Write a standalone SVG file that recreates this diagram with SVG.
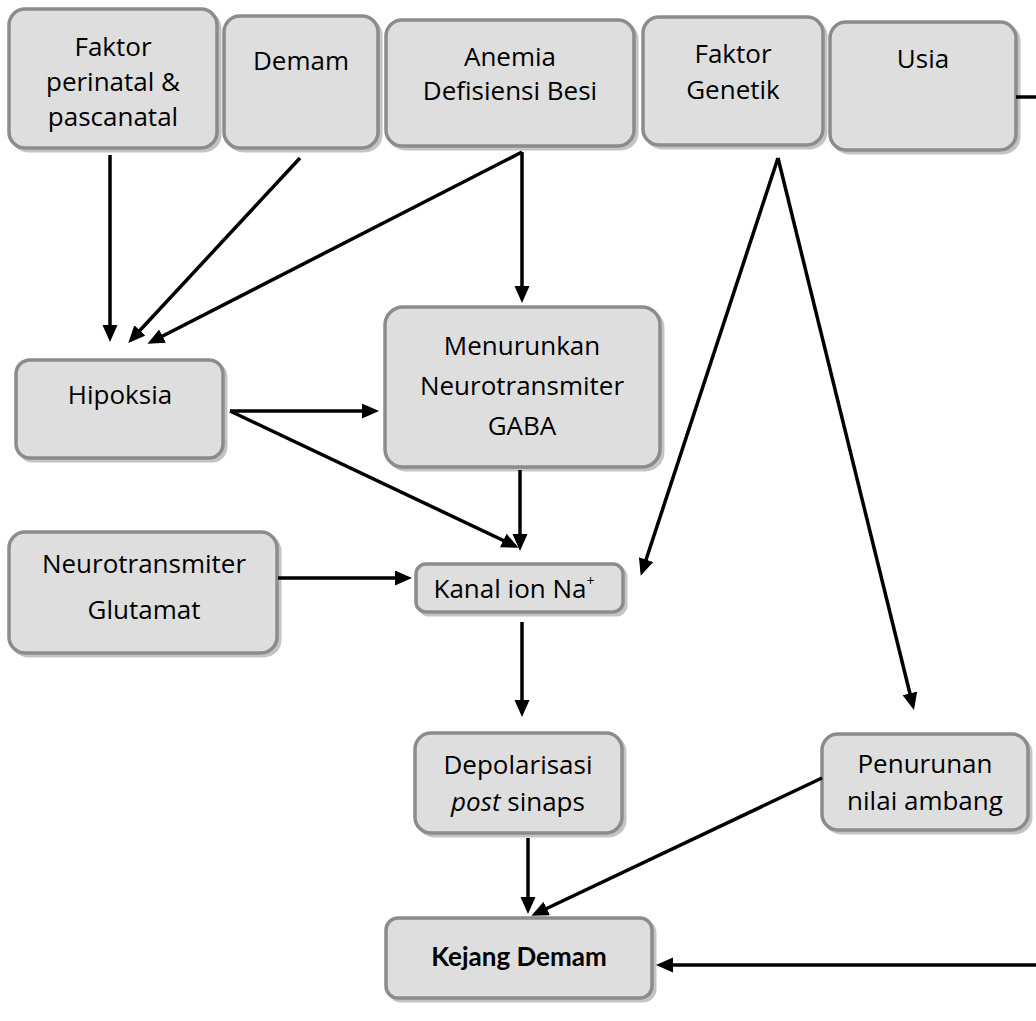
<svg xmlns="http://www.w3.org/2000/svg" width="1036" height="1021" viewBox="0 0 1036 1021">
<style>
.sh{fill:#c4c4c4;stroke:#c4c4c4;stroke-width:3}
.bx{fill:#dedede;stroke:#8c8c8c;stroke-width:3.5}
.t{font-family:"Open Sans","Noto Sans",sans-serif;font-size:26px;fill:#000;text-anchor:middle}
.b{font-family:Lato,"Open Sans",sans-serif;font-weight:bold}
.c line{stroke:#000;stroke-width:3.5}
.a{marker-end:url(#ah)}
</style>
<defs>
<marker id="ah" markerUnits="userSpaceOnUse" markerWidth="18" markerHeight="16" refX="13" refY="7.5" orient="auto">
<path d="M0,0 L17,7.5 L0,15 z" fill="#000"/>
</marker>
</defs>
<rect width="1036" height="1021" fill="#fff"/>
<g id="n-perinatal">
<rect class="sh" x="12" y="12" width="208" height="139" rx="16"/>
<rect class="bx" x="9" y="9" width="208" height="139" rx="16"/>
<text class="t" x="113" y="56">Faktor</text>
<text class="t" x="113" y="91">perinatal &amp;</text>
<text class="t" x="113" y="126">pascanatal</text>
</g>
<g id="n-demam">
<rect class="sh" x="227" y="19" width="154" height="132" rx="16"/>
<rect class="bx" x="224" y="16" width="154" height="132" rx="16"/>
<text class="t" x="301" y="70">Demam</text>
</g>
<g id="n-anemia">
<rect class="sh" x="389" y="23" width="248" height="126" rx="16"/>
<rect class="bx" x="386" y="20" width="248" height="126" rx="16"/>
<text class="t" x="510" y="66">Anemia</text>
<text class="t" x="510" y="100">Defisiensi Besi</text>
</g>
<g id="n-genetik">
<rect class="sh" x="646" y="20" width="180" height="128" rx="16"/>
<rect class="bx" x="643" y="17" width="180" height="128" rx="16"/>
<text class="t" x="733" y="63">Faktor</text>
<text class="t" x="733" y="99">Genetik</text>
</g>
<g id="n-usia">
<rect class="sh" x="833" y="25" width="186" height="128" rx="16"/>
<rect class="bx" x="830" y="22" width="186" height="128" rx="16"/>
<text class="t" x="923" y="68">Usia</text>
</g>
<g id="n-hipoksia">
<rect class="sh" x="19" y="363" width="207" height="98" rx="14"/>
<rect class="bx" x="16" y="360" width="207" height="98" rx="14"/>
<text class="t" x="120" y="404">Hipoksia</text>
</g>
<g id="n-gaba">
<rect class="sh" x="388" y="310" width="275" height="160" rx="18"/>
<rect class="bx" x="385" y="307" width="275" height="160" rx="18"/>
<text class="t" x="522" y="355">Menurunkan</text>
<text class="t" x="522" y="395">Neurotransmiter</text>
<text class="t" x="522" y="435">GABA</text>
</g>
<g id="n-glutamat">
<rect class="sh" x="12" y="535" width="268" height="121" rx="16"/>
<rect class="bx" x="9" y="532" width="268" height="121" rx="16"/>
<text class="t" x="144" y="573">Neurotransmiter</text>
<text class="t" x="144" y="619">Glutamat</text>
</g>
<g id="n-kanal">
<rect class="sh" x="419" y="567" width="207" height="48" rx="10"/>
<rect class="bx" x="416" y="564" width="207" height="48" rx="10"/>
<text class="t" x="514" y="598">Kanal ion Na<tspan font-size="14" dy="-12">+</tspan></text>
</g>
<g id="n-depolarisasi">
<rect class="sh" x="418" y="736" width="207" height="100" rx="16"/>
<rect class="bx" x="415" y="733" width="207" height="100" rx="16"/>
<text class="t" x="518" y="774">Depolarisasi</text>
<text class="t" x="518" y="811"><tspan font-style="italic">post</tspan> sinaps</text>
</g>
<g id="n-penurunan">
<rect class="sh" x="825" y="737" width="206" height="96" rx="16"/>
<rect class="bx" x="822" y="734" width="206" height="96" rx="16"/>
<text class="t" x="925" y="773">Penurunan</text>
<text class="t" x="925" y="810">nilai ambang</text>
</g>
<g id="n-kejang">
<rect class="sh" x="389" y="921" width="266" height="80" rx="12"/>
<rect class="bx" x="386" y="918" width="266" height="80" rx="12"/>
<text class="t b" x="519" y="966" font-size="25">Kejang Demam</text>
</g>
<g id="connectors" class="c">
<line class="a" x1="110" y1="155" x2="110" y2="338"/>
<line class="a" x1="300" y1="158" x2="131" y2="340"/>
<line class="a" x1="522" y1="152" x2="151" y2="342"/>
<line class="a" x1="522" y1="152" x2="522" y2="299"/>
<line class="a" x1="230" y1="411" x2="375" y2="411"/>
<line class="a" x1="230" y1="411" x2="515" y2="546"/>
<line class="a" x1="520" y1="470" x2="520" y2="547"/>
<line class="a" x1="278" y1="578" x2="408" y2="578"/>
<line class="a" x1="778" y1="158" x2="642" y2="572"/>
<line class="a" x1="778" y1="158" x2="913" y2="706"/>
<line class="a" x1="522" y1="622" x2="522" y2="713"/>
<line class="a" x1="528" y1="838" x2="528" y2="910"/>
<line class="a" x1="822" y1="778" x2="535" y2="914"/>
<line x1="1016" y1="97" x2="1036" y2="97"/>
<line class="a" x1="1036" y1="965" x2="660" y2="965"/>
</g>
</svg>
